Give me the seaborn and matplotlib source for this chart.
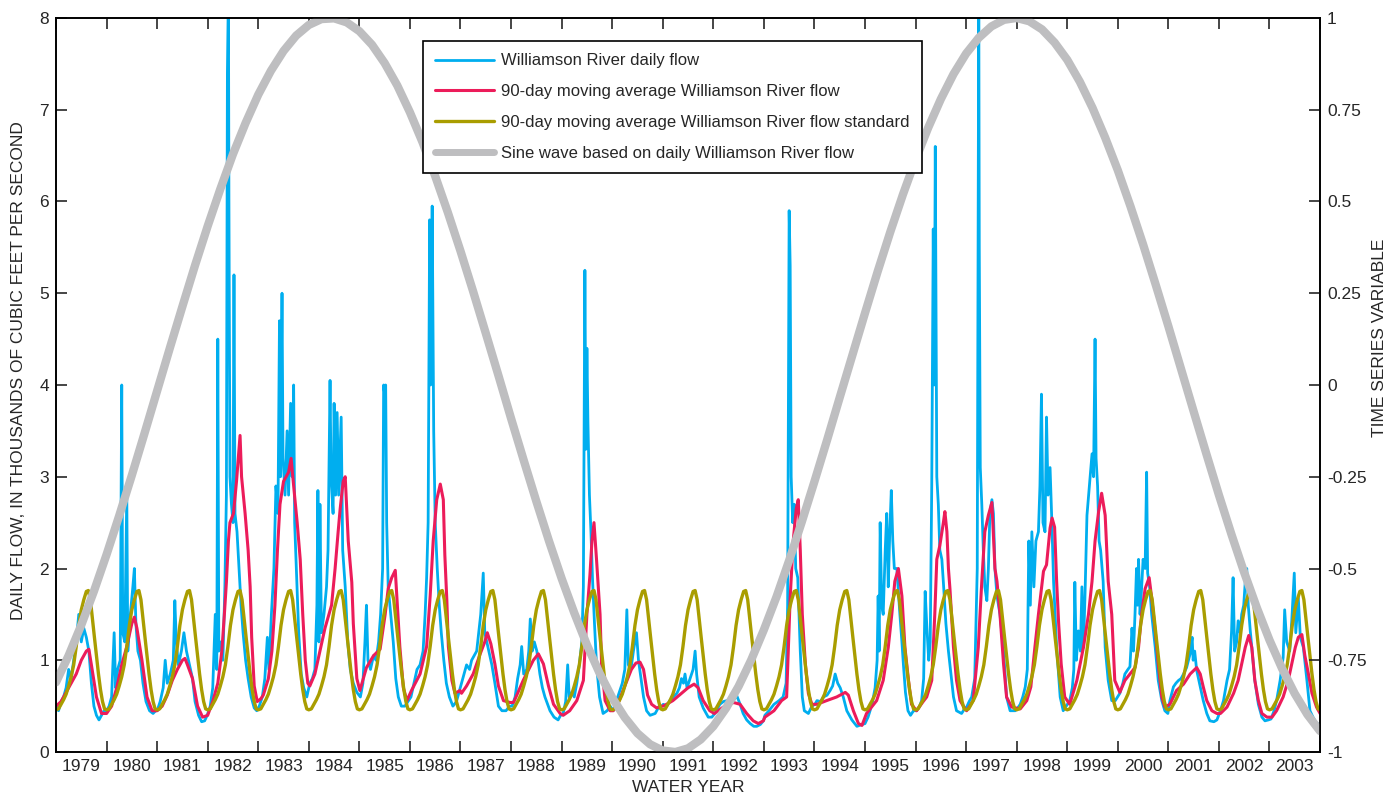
import matplotlib
matplotlib.use("Agg")
import matplotlib.pyplot as plt
from matplotlib import font_manager
from matplotlib.lines import Line2D
import seaborn as sns
import pandas as pd
import numpy as np

# --- style ---
sns.set_style("ticks")
installed = {f.name for f in font_manager.fontManager.ttflist}
base_font = 'Liberation Sans Narrow' if 'Liberation Sans Narrow' in installed else 'Liberation Sans'
plt.rcParams['font.family'] = [base_font, 'DejaVu Sans']
plt.rcParams['axes.linewidth'] = 1.2
FS = 12.5

c_daily = '#00AEEF'
c_avg = '#EC1C5A'
c_std = '#A99D00'
c_sine = '#BEBEC0'

# --- data (water year decimal, thousands of cfs) ---
daily_flow = [
    # 1979
    (1979.00, 0.50), (1979.05, 0.45), (1979.10, 0.55), (1979.15, 0.60), (1979.20, 0.70), (1979.25, 0.90),
    (1979.30, 0.80), (1979.35, 1.00), (1979.40, 1.20), (1979.45, 1.50), (1979.50, 1.20), (1979.55, 1.35),
    (1979.60, 1.25), (1979.65, 1.10), (1979.70, 0.75), (1979.75, 0.50), (1979.80, 0.40), (1979.85, 0.35),
    (1979.90, 0.40), (1979.95, 0.45),
    # 1980
    (1980.00, 0.45), (1980.05, 0.50), (1980.10, 0.60), (1980.15, 1.30), (1980.18, 0.70), (1980.22, 0.90),
    (1980.27, 1.00), (1980.30, 4.00), (1980.32, 1.30), (1980.36, 1.20), (1980.40, 2.80), (1980.42, 1.10),
    (1980.47, 1.50), (1980.52, 1.80), (1980.55, 2.00), (1980.58, 1.40), (1980.62, 1.10), (1980.67, 1.00),
    (1980.72, 0.75), (1980.78, 0.55), (1980.85, 0.45), (1980.92, 0.42), (1980.97, 0.45),
    # 1981
    (1981.00, 0.45), (1981.06, 0.55), (1981.12, 0.70), (1981.16, 1.00), (1981.20, 0.75), (1981.26, 0.85),
    (1981.32, 1.00), (1981.35, 1.65), (1981.38, 1.20), (1981.42, 0.95), (1981.48, 1.10), (1981.53, 1.30),
    (1981.58, 1.10), (1981.64, 0.95), (1981.70, 0.80), (1981.75, 0.55), (1981.82, 0.40), (1981.88, 0.33),
    (1981.94, 0.34), (1981.99, 0.40),
    # 1982
    (1982.05, 0.50), (1982.10, 0.70), (1982.15, 1.50), (1982.18, 0.90), (1982.20, 4.50), (1982.22, 1.10),
    (1982.26, 1.20), (1982.30, 1.00), (1982.34, 1.80), (1982.37, 2.80), (1982.39, 7.40), (1982.41, 8.30),
    (1982.42, 6.00), (1982.44, 3.00), (1982.47, 2.70), (1982.50, 2.50), (1982.52, 5.20), (1982.54, 2.60),
    (1982.58, 2.40), (1982.62, 2.00), (1982.66, 1.60), (1982.70, 1.30), (1982.75, 1.00), (1982.80, 0.80),
    (1982.86, 0.60), (1982.92, 0.48), (1982.97, 0.45),
    # 1983
    (1983.02, 0.50), (1983.08, 0.60), (1983.13, 0.80), (1983.18, 1.25), (1983.21, 0.90), (1983.26, 1.50),
    (1983.31, 2.00), (1983.35, 2.90), (1983.39, 2.60), (1983.42, 4.70), (1983.44, 3.00), (1983.47, 5.00),
    (1983.49, 3.20), (1983.53, 2.80), (1983.57, 3.50), (1983.60, 2.80), (1983.64, 3.80), (1983.67, 3.00),
    (1983.70, 4.00), (1983.72, 2.50), (1983.76, 1.90), (1983.80, 1.30), (1983.85, 0.85), (1983.90, 0.70),
    (1983.96, 0.60),
    # 1984
    (1984.02, 0.75), (1984.07, 0.80), (1984.12, 0.90), (1984.16, 1.60), (1984.18, 2.85), (1984.20, 1.20),
    (1984.22, 2.70), (1984.25, 1.30), (1984.30, 1.50), (1984.35, 1.80), (1984.38, 2.20), (1984.42, 4.05),
    (1984.44, 3.00), (1984.48, 2.60), (1984.50, 3.80), (1984.53, 2.80), (1984.56, 3.70), (1984.59, 2.80),
    (1984.64, 3.65), (1984.67, 2.20), (1984.72, 1.80), (1984.77, 1.20), (1984.82, 0.90), (1984.88, 0.75),
    (1984.95, 0.65),
    # 1985
    (1985.02, 0.60), (1985.07, 0.75), (1985.11, 1.20), (1985.14, 1.60), (1985.17, 1.00), (1985.22, 0.90),
    (1985.28, 1.05), (1985.33, 1.00), (1985.38, 1.20), (1985.42, 1.50), (1985.46, 2.00), (1985.48, 4.00),
    (1985.50, 3.90), (1985.52, 4.00), (1985.54, 2.50), (1985.57, 1.80), (1985.62, 1.50), (1985.67, 1.20),
    (1985.72, 0.80), (1985.77, 0.60), (1985.83, 0.50), (1985.90, 0.50), (1985.96, 0.55),
    # 1986
    (1986.02, 0.60), (1986.08, 0.75), (1986.14, 0.90), (1986.20, 0.95), (1986.26, 1.10), (1986.30, 1.50),
    (1986.33, 1.90), (1986.36, 2.50), (1986.39, 5.80), (1986.41, 4.00), (1986.44, 5.95), (1986.47, 3.50),
    (1986.50, 2.50), (1986.54, 2.00), (1986.58, 1.60), (1986.62, 1.30), (1986.67, 1.00), (1986.72, 0.75),
    (1986.78, 0.60), (1986.85, 0.50), (1986.92, 0.55), (1986.97, 0.65),
    # 1987
    (1987.02, 0.75), (1987.07, 0.85), (1987.12, 0.95), (1987.18, 0.90), (1987.22, 1.00), (1987.27, 1.05),
    (1987.32, 1.10), (1987.36, 1.30), (1987.40, 1.50), (1987.45, 1.95), (1987.48, 1.30), (1987.52, 1.20),
    (1987.56, 1.10), (1987.62, 0.95), (1987.68, 0.75), (1987.75, 0.50), (1987.82, 0.45), (1987.90, 0.45),
    (1987.97, 0.50),
    # 1988
    (1988.02, 0.50), (1988.08, 0.60), (1988.13, 0.80), (1988.18, 0.95), (1988.21, 1.15), (1988.25, 0.85),
    (1988.31, 0.90), (1988.35, 1.10), (1988.38, 1.45), (1988.42, 1.10), (1988.46, 1.20), (1988.51, 1.10),
    (1988.57, 0.85), (1988.62, 0.70), (1988.67, 0.60), (1988.77, 0.45), (1988.85, 0.38), (1988.93, 0.35),
    (1988.98, 0.40),
    # 1989
    (1989.03, 0.42), (1989.08, 0.55), (1989.12, 0.95), (1989.15, 0.60), (1989.20, 0.65), (1989.25, 0.60),
    (1989.30, 0.75), (1989.35, 0.95), (1989.40, 1.20), (1989.43, 1.80), (1989.46, 5.25), (1989.48, 3.30),
    (1989.50, 4.40), (1989.52, 3.60), (1989.55, 2.80), (1989.58, 2.40), (1989.61, 1.90), (1989.65, 1.40),
    (1989.69, 0.95), (1989.75, 0.60), (1989.82, 0.42), (1989.90, 0.45), (1989.96, 0.50),
    # 1990
    (1990.02, 0.45), (1990.08, 0.55), (1990.14, 0.65), (1990.20, 0.75), (1990.25, 0.90), (1990.29, 1.55),
    (1990.32, 0.95), (1990.37, 0.90), (1990.42, 1.10), (1990.48, 1.30), (1990.52, 1.00), (1990.57, 0.80),
    (1990.62, 0.60), (1990.68, 0.45), (1990.75, 0.40), (1990.85, 0.42), (1990.93, 0.50), (1990.98, 0.50),
    # 1991
    (1991.01, 0.52), (1991.08, 0.50), (1991.14, 0.56), (1991.21, 0.60), (1991.28, 0.64), (1991.33, 0.70),
    (1991.37, 0.80), (1991.41, 0.75), (1991.44, 0.85), (1991.48, 0.70), (1991.54, 0.80), (1991.60, 0.90),
    (1991.64, 1.10), (1991.67, 0.85), (1991.72, 0.60), (1991.80, 0.48), (1991.90, 0.38), (1991.97, 0.38),
    # 1992
    (1992.03, 0.42), (1992.13, 0.52), (1992.20, 0.55), (1992.27, 0.56), (1992.33, 0.58), (1992.40, 0.56),
    (1992.46, 0.62), (1992.53, 0.52), (1992.59, 0.42), (1992.66, 0.35), (1992.73, 0.31), (1992.80, 0.28),
    (1992.86, 0.28), (1992.93, 0.30), (1992.99, 0.34),
    # 1993
    (1993.02, 0.40), (1993.10, 0.45), (1993.20, 0.52), (1993.30, 0.56), (1993.38, 0.60), (1993.44, 0.75),
    (1993.47, 1.60), (1993.50, 5.90), (1993.52, 5.30), (1993.54, 3.00), (1993.57, 2.50), (1993.60, 2.70),
    (1993.63, 2.00), (1993.67, 1.90), (1993.72, 1.10), (1993.76, 0.60), (1993.80, 0.45), (1993.88, 0.42),
    (1993.95, 0.50),
    # 1994
    (1994.01, 0.52), (1994.05, 0.56), (1994.12, 0.55), (1994.18, 0.60), (1994.25, 0.62), (1994.31, 0.67),
    (1994.36, 0.72), (1994.41, 0.85), (1994.46, 0.75), (1994.51, 0.70), (1994.57, 0.60), (1994.64, 0.45),
    (1994.74, 0.35), (1994.84, 0.28), (1994.94, 0.30),
    # 1995
    (1995.00, 0.31), (1995.06, 0.38), (1995.10, 0.45), (1995.15, 0.55), (1995.20, 0.70), (1995.24, 1.00),
    (1995.26, 1.70), (1995.28, 1.10), (1995.30, 2.50), (1995.33, 1.60), (1995.36, 1.50), (1995.40, 2.20),
    (1995.43, 2.60), (1995.46, 1.80), (1995.49, 2.40), (1995.52, 2.85), (1995.55, 2.30), (1995.58, 2.00),
    (1995.63, 2.00), (1995.66, 1.75), (1995.69, 1.50), (1995.73, 1.20), (1995.76, 0.95), (1995.80, 0.65),
    (1995.85, 0.45), (1995.90, 0.40), (1995.96, 0.45),
    # 1996
    (1996.02, 0.45), (1996.08, 0.50), (1996.12, 0.56), (1996.16, 0.80), (1996.19, 1.75), (1996.22, 1.40),
    (1996.26, 1.00), (1996.29, 1.20), (1996.32, 2.90), (1996.35, 5.70), (1996.37, 4.00), (1996.39, 6.60),
    (1996.42, 3.00), (1996.45, 2.70), (1996.48, 2.20), (1996.52, 2.10), (1996.55, 1.85), (1996.60, 1.40),
    (1996.65, 1.10), (1996.70, 0.85), (1996.75, 0.60), (1996.81, 0.45), (1996.91, 0.42), (1996.98, 0.48),
    # 1997
    (1997.01, 0.49), (1997.06, 0.55), (1997.11, 0.60), (1997.17, 0.80), (1997.22, 2.00), (1997.25, 8.30),
    (1997.26, 5.50), (1997.28, 3.10), (1997.31, 2.70), (1997.34, 2.20), (1997.37, 1.80), (1997.41, 1.65),
    (1997.44, 2.00), (1997.47, 2.60), (1997.51, 2.75), (1997.54, 2.60), (1997.57, 2.00), (1997.61, 1.70),
    (1997.67, 1.50), (1997.74, 1.10), (1997.80, 0.60), (1997.87, 0.45), (1997.97, 0.45),
    # 1998
    (1998.02, 0.48), (1998.07, 0.52), (1998.12, 0.60), (1998.17, 0.71), (1998.21, 0.90), (1998.24, 2.30),
    (1998.27, 1.60), (1998.30, 2.40), (1998.34, 1.80), (1998.38, 2.30), (1998.43, 2.40), (1998.46, 2.90),
    (1998.49, 3.90), (1998.52, 2.50), (1998.56, 2.40), (1998.59, 3.65), (1998.62, 2.80), (1998.66, 3.10),
    (1998.69, 2.60), (1998.73, 1.85), (1998.79, 1.14), (1998.86, 0.60), (1998.92, 0.45), (1998.98, 0.50),
    # 1999
    (1999.05, 0.56), (1999.10, 0.70), (1999.13, 0.90), (1999.15, 1.85), (1999.18, 1.00), (1999.22, 1.32),
    (1999.26, 1.10), (1999.29, 1.80), (1999.32, 1.14), (1999.35, 1.68), (1999.39, 2.58), (1999.45, 2.98),
    (1999.49, 3.25), (1999.52, 3.00), (1999.55, 4.50), (1999.57, 3.20), (1999.60, 2.90), (1999.63, 2.30),
    (1999.66, 2.20), (1999.71, 1.86), (1999.75, 1.14), (1999.81, 0.78), (1999.88, 0.56), (1999.95, 0.56),
    # 2000
    (2000.04, 0.64), (2000.10, 0.75), (2000.14, 0.85), (2000.20, 0.90), (2000.24, 0.93), (2000.28, 1.35),
    (2000.31, 1.10), (2000.34, 1.50), (2000.37, 2.00), (2000.39, 1.60), (2000.41, 2.10), (2000.44, 1.50),
    (2000.47, 1.78), (2000.50, 2.10), (2000.54, 2.00), (2000.57, 3.05), (2000.59, 1.95), (2000.63, 1.80),
    (2000.67, 1.50), (2000.74, 1.14), (2000.80, 0.78), (2000.87, 0.56), (2000.93, 0.45), (2000.99, 0.42),
    # 2001
    (2001.03, 0.56), (2001.10, 0.71), (2001.15, 0.75), (2001.20, 0.78), (2001.25, 0.80), (2001.30, 0.85),
    (2001.36, 0.92), (2001.43, 1.07), (2001.47, 1.25), (2001.49, 1.00), (2001.52, 1.10), (2001.56, 0.89),
    (2001.63, 0.71), (2001.69, 0.56), (2001.76, 0.42), (2001.82, 0.34), (2001.90, 0.33), (2001.96, 0.35),
    # 2002
    (2002.03, 0.45), (2002.09, 0.56), (2002.16, 0.78), (2002.21, 0.90), (2002.25, 1.32), (2002.28, 1.90),
    (2002.31, 1.10), (2002.35, 1.20), (2002.38, 1.43), (2002.42, 1.30), (2002.45, 1.50), (2002.49, 1.60),
    (2002.52, 1.85), (2002.55, 2.00), (2002.58, 1.60), (2002.62, 1.32), (2002.65, 1.14), (2002.71, 0.78),
    (2002.78, 0.52), (2002.85, 0.38), (2002.91, 0.34), (2002.98, 0.35),
    # 2003
    (2003.03, 0.36), (2003.09, 0.45), (2003.14, 0.56), (2003.21, 0.78), (2003.27, 1.03), (2003.30, 1.55),
    (2003.34, 1.20), (2003.40, 1.10), (2003.44, 1.43), (2003.49, 1.95), (2003.52, 1.30), (2003.57, 1.68),
    (2003.61, 1.25), (2003.67, 1.14), (2003.74, 0.78), (2003.80, 0.45), (2003.86, 0.38), (2003.93, 0.31),
    (2004.00, 0.30),
]

moving_avg = [
    (1979.00, 0.50), (1979.10, 0.55), (1979.20, 0.65), (1979.30, 0.75), (1979.40, 0.85), (1979.50, 1.00),
    (1979.60, 1.10), (1979.65, 1.12), (1979.70, 0.95), (1979.80, 0.60), (1979.90, 0.42),
    (1980.00, 0.42), (1980.10, 0.50), (1980.20, 0.70), (1980.30, 0.95), (1980.40, 1.15), (1980.50, 1.40),
    (1980.55, 1.47), (1980.60, 1.35), (1980.70, 1.00), (1980.80, 0.60), (1980.90, 0.45),
    (1981.00, 0.45), (1981.10, 0.50), (1981.20, 0.62), (1981.30, 0.78), (1981.40, 0.90), (1981.50, 1.00),
    (1981.55, 1.02), (1981.60, 0.95), (1981.70, 0.80), (1981.80, 0.50), (1981.90, 0.38),
    (1982.00, 0.40), (1982.10, 0.55), (1982.20, 0.75), (1982.28, 1.10), (1982.33, 1.50), (1982.37, 1.85),
    (1982.41, 2.30), (1982.44, 2.50), (1982.51, 2.60), (1982.57, 2.95), (1982.62, 3.30), (1982.64, 3.45),
    (1982.67, 3.00), (1982.74, 2.60), (1982.80, 2.20), (1982.84, 1.80), (1982.87, 1.25), (1982.92, 0.72),
    (1982.98, 0.55),
    (1983.05, 0.58), (1983.10, 0.62), (1983.20, 0.80), (1983.27, 1.10), (1983.33, 1.60), (1983.38, 2.20),
    (1983.43, 2.70), (1983.50, 2.95), (1983.60, 3.05), (1983.65, 3.20), (1983.70, 2.90), (1983.77, 2.50),
    (1983.83, 2.10), (1983.88, 1.50), (1983.93, 1.00), (1983.98, 0.75),
    (1984.02, 0.72), (1984.12, 0.85), (1984.22, 1.10), (1984.32, 1.35), (1984.45, 1.60), (1984.52, 2.00),
    (1984.58, 2.40), (1984.62, 2.65), (1984.68, 2.95), (1984.72, 3.00), (1984.78, 2.30), (1984.85, 1.85),
    (1984.88, 1.40), (1984.95, 0.80),
    (1985.01, 0.67), (1985.14, 0.92), (1985.28, 1.05), (1985.41, 1.12), (1985.51, 1.50), (1985.57, 1.78),
    (1985.64, 1.90), (1985.71, 1.98), (1985.74, 1.70), (1985.80, 1.15), (1985.87, 0.70), (1985.94, 0.56),
    (1986.03, 0.67), (1986.20, 0.85), (1986.33, 1.15), (1986.40, 1.70), (1986.46, 2.30), (1986.53, 2.75),
    (1986.60, 2.92), (1986.66, 2.75), (1986.69, 2.15), (1986.73, 1.65), (1986.76, 1.15), (1986.83, 0.78),
    (1986.89, 0.64), (1986.99, 0.67),
    (1987.02, 0.64), (1987.12, 0.72), (1987.25, 0.85), (1987.39, 1.07), (1987.48, 1.20), (1987.53, 1.30),
    (1987.60, 1.18), (1987.68, 0.96), (1987.75, 0.72), (1987.85, 0.56), (1987.98, 0.54),
    (1988.05, 0.54), (1988.24, 0.78), (1988.44, 1.00), (1988.54, 1.07), (1988.64, 0.96), (1988.74, 0.72),
    (1988.84, 0.52), (1988.97, 0.42),
    (1989.03, 0.40), (1989.16, 0.45), (1989.30, 0.56), (1989.43, 0.78), (1989.50, 1.50), (1989.56, 1.93),
    (1989.60, 2.30), (1989.64, 2.50), (1989.69, 2.10), (1989.76, 1.50), (1989.79, 0.96), (1989.86, 0.56),
    (1989.96, 0.45),
    (1990.02, 0.45), (1990.13, 0.55), (1990.25, 0.72), (1990.38, 0.90), (1990.47, 0.97), (1990.55, 0.98),
    (1990.62, 0.90), (1990.70, 0.62), (1990.78, 0.52), (1990.88, 0.48), (1990.98, 0.50),
    (1991.01, 0.50), (1991.20, 0.56), (1991.37, 0.64), (1991.50, 0.70), (1991.62, 0.74), (1991.70, 0.70),
    (1991.80, 0.56), (1991.93, 0.45),
    (1992.02, 0.42), (1992.20, 0.49), (1992.40, 0.54), (1992.53, 0.52), (1992.66, 0.42), (1992.79, 0.34),
    (1992.89, 0.31), (1992.99, 0.34),
    (1993.02, 0.38), (1993.20, 0.45), (1993.35, 0.56), (1993.45, 0.60), (1993.52, 1.68), (1993.58, 2.30),
    (1993.64, 2.65), (1993.68, 2.75), (1993.72, 2.20), (1993.76, 1.50), (1993.82, 0.96), (1993.88, 0.64),
    (1993.95, 0.52),
    (1994.05, 0.52), (1994.24, 0.56), (1994.44, 0.60), (1994.61, 0.65), (1994.67, 0.62), (1994.77, 0.45),
    (1994.87, 0.31), (1994.94, 0.29),
    (1995.03, 0.42), (1995.23, 0.56), (1995.36, 0.78), (1995.46, 1.14), (1995.53, 1.50), (1995.59, 1.86),
    (1995.66, 2.00), (1995.73, 1.70), (1995.79, 1.14), (1995.86, 0.78), (1995.92, 0.52),
    (1996.02, 0.45), (1996.15, 0.55), (1996.22, 0.60), (1996.32, 0.78), (1996.38, 1.50), (1996.42, 2.10),
    (1996.48, 2.25), (1996.55, 2.50), (1996.58, 2.62), (1996.62, 2.40), (1996.65, 2.00), (1996.68, 1.78),
    (1996.75, 1.14), (1996.81, 0.78), (1996.88, 0.56), (1996.98, 0.47),
    (1997.01, 0.45), (1997.14, 0.56), (1997.24, 1.14), (1997.31, 1.86), (1997.37, 2.40), (1997.44, 2.58),
    (1997.51, 2.72), (1997.57, 2.00), (1997.61, 1.86), (1997.67, 1.50), (1997.74, 0.96), (1997.80, 0.60),
    (1997.90, 0.49),
    (1998.07, 0.47), (1998.20, 0.56), (1998.28, 0.71), (1998.36, 1.14), (1998.43, 1.50), (1998.53, 1.97),
    (1998.59, 2.04), (1998.66, 2.44), (1998.70, 2.55), (1998.75, 2.45), (1998.79, 1.86), (1998.83, 1.40),
    (1998.88, 0.96), (1998.95, 0.60),
    (1999.05, 0.52), (1999.19, 0.78), (1999.32, 1.14), (1999.42, 1.50), (1999.49, 1.86), (1999.55, 2.30),
    (1999.62, 2.62), (1999.68, 2.82), (1999.75, 2.58), (1999.78, 2.22), (1999.81, 1.86), (1999.88, 1.50),
    (1999.91, 1.14), (1999.94, 0.78),
    (2000.04, 0.65), (2000.14, 0.78), (2000.24, 0.85), (2000.34, 0.92), (2000.41, 1.14), (2000.47, 1.50),
    (2000.54, 1.78), (2000.62, 1.90), (2000.67, 1.68), (2000.74, 1.32), (2000.80, 0.96), (2000.87, 0.60),
    (2000.93, 0.49),
    (2001.03, 0.52), (2001.16, 0.67), (2001.30, 0.74), (2001.43, 0.85), (2001.56, 0.92), (2001.63, 0.85),
    (2001.69, 0.71), (2001.76, 0.56), (2001.86, 0.45), (2001.96, 0.42),
    (2002.03, 0.42), (2002.16, 0.49), (2002.29, 0.64), (2002.38, 0.78), (2002.45, 0.96), (2002.52, 1.14),
    (2002.59, 1.27), (2002.65, 1.14), (2002.71, 0.78), (2002.78, 0.56), (2002.85, 0.42), (2002.95, 0.38),
    (2003.05, 0.38), (2003.14, 0.45), (2003.27, 0.60), (2003.37, 0.78), (2003.44, 0.96), (2003.51, 1.14),
    (2003.57, 1.25), (2003.64, 1.28), (2003.70, 1.05), (2003.77, 0.85), (2003.84, 0.64), (2003.93, 0.49),
    (2004.00, 0.42),
]

# seasonal standard: same 90-day average profile every water year
water_years = list(range(1979, 2004))
std_frac = [0.00, 0.05, 0.10, 0.15, 0.20, 0.25, 0.30, 0.35, 0.40, 0.45, 0.50,
            0.55, 0.60, 0.64, 0.68, 0.72, 0.76, 0.80, 0.84, 0.88, 0.92, 0.96]
std_kcfs = [0.46, 0.47, 0.52, 0.57, 0.63, 0.72, 0.82, 0.95, 1.15, 1.38, 1.55,
            1.66, 1.75, 1.76, 1.66, 1.45, 1.25, 1.05, 0.85, 0.68, 0.55, 0.47]

# sine wave (right axis), read every quarter water year
sine_year = [1979 + 0.25 * k for k in range(101)]
sine_val = [
    -0.810, -0.737, -0.654, -0.562, -0.462, -0.356, -0.246, -0.132, -0.016, 0.100,
    0.214, 0.326, 0.433, 0.534, 0.629, 0.714, 0.791, 0.856, 0.910, 0.952,
    0.981, 0.997, 0.999, 0.988, 0.964, 0.927, 0.877, 0.816, 0.743, 0.661,
    0.569, 0.470, 0.365, 0.255, 0.141, 0.026, -0.091, -0.205, -0.317, -0.425,
    -0.527, -0.621, -0.708, -0.785, -0.852, -0.906, -0.949, -0.979, -0.996, -1.000,
    -0.990, -0.966, -0.930, -0.881, -0.821, -0.749, -0.667, -0.577, -0.478, -0.373,
    -0.263, -0.150, -0.034, 0.081, 0.196, 0.309, 0.417, 0.519, 0.614, 0.701,
    0.779, 0.847, 0.903, 0.946, 0.977, 0.995, 1.000, 0.991, 0.969, 0.933,
    0.886, 0.826, 0.755, 0.674, 0.585, 0.487, 0.383, 0.273, 0.160, 0.044,
    -0.072, -0.187, -0.300, -0.408, -0.511, -0.607, -0.695, -0.773, -0.841, -0.898,
    -0.943,
]

year_labels = [str(y) for y in water_years]
left_ticks = list(range(0, 9))
right_ticks = [-1, -0.75, -0.5, -0.25, 0, 0.25, 0.5, 0.75, 1]
right_labels = ['-1', '-0.75', '-0.5', '-0.25', '0', '0.25', '0.5', '0.75', '1']

# --- tables ---
df_daily = pd.DataFrame(daily_flow, columns=['year', 'kcfs'])
df_avg = pd.DataFrame(moving_avg, columns=['year', 'kcfs'])
df_std = pd.DataFrame({
    'year': [wy + f for wy in water_years for f in std_frac] + [2004.0],
    'kcfs': [v for wy in water_years for v in std_kcfs] + [std_kcfs[0]],
})
df_sine = pd.DataFrame({'year': sine_year, 'val': sine_val})

# --- figure ---
fig = plt.figure(figsize=(14, 7.99), dpi=100)
ax = fig.add_axes([0.04, 0.0588, 0.9029, 0.9187])

sns.lineplot(data=df_daily, x='year', y='kcfs', ax=ax, color=c_daily,
             linewidth=2.0, estimator=None, sort=False)
sns.lineplot(data=df_avg, x='year', y='kcfs', ax=ax, color=c_avg,
             linewidth=2.2, estimator=None, sort=False)
sns.lineplot(data=df_std, x='year', y='kcfs', ax=ax, color=c_std,
             linewidth=2.4, estimator=None, sort=False)

ax.set_xlim(1979, 2004)
ax.set_ylim(0, 8)
ax.set_xticks(range(1979, 2005))
ax.set_xticks([y + 0.5 for y in water_years], minor=True)
ax.set_xticklabels([])
ax.set_xticklabels(year_labels, minor=True)
ax.tick_params(axis='x', which='major', direction='in', length=8, width=1.2,
               top=True, bottom=True, labelbottom=False)
ax.tick_params(axis='x', which='minor', length=0, labelsize=FS, pad=5)
ax.set_yticks(left_ticks)
ax.tick_params(axis='y', direction='in', length=8, width=1.2, labelsize=FS, pad=5)
ax.set_xlabel('WATER YEAR', fontsize=FS, labelpad=4)
ax.set_ylabel('DAILY FLOW, IN THOUSANDS OF CUBIC FEET PER SECOND', fontsize=FS)
ax.yaxis.set_label_coords(-0.024, 0.52)

ax2 = ax.twinx()
sns.lineplot(data=df_sine, x='year', y='val', ax=ax2, color=c_sine,
             linewidth=6, estimator=None, sort=False)
ax2.set_ylim(-1, 1)
ax2.set_yticks(right_ticks)
ax2.set_yticklabels(right_labels)
ax2.tick_params(axis='y', direction='in', length=8, width=1.2, labelsize=FS, pad=5)
ax2.set_ylabel('TIME SERIES VARIABLE', fontsize=FS)
ax2.yaxis.set_label_coords(1.041, 0.564)
ax2.set_xlim(1979, 2004)

for a in (ax, ax2):
    for s in a.spines.values():
        s.set_color('black')
        s.set_linewidth(1.2)

handles = [
    Line2D([0], [0], color=c_daily, linewidth=2.0),
    Line2D([0], [0], color=c_avg, linewidth=2.2),
    Line2D([0], [0], color=c_std, linewidth=2.4),
    Line2D([0], [0], color=c_sine, linewidth=5),
]
labels = ['Williamson River daily flow',
          '90-day moving average Williamson River flow',
          '90-day moving average Williamson River flow standard',
          'Sine wave based on daily Williamson River flow']
leg = ax2.legend(handles, labels, loc='upper left', bbox_to_anchor=(0.2903, 0.9687),
                 borderaxespad=0, frameon=True, fancybox=False, edgecolor='black',
                 framealpha=1, fontsize=12, handlelength=3.5, labelspacing=0.95,
                 borderpad=0.75, handletextpad=0.45)
leg.get_frame().set_linewidth(1.2)

fig.savefig('out.png', dpi=100)
